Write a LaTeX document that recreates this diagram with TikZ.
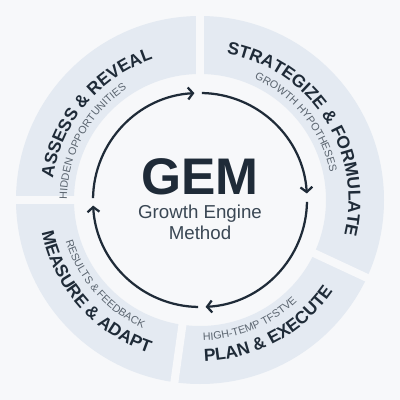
\documentclass[tikz,border=0pt]{standalone}
\usepackage{fontspec}
\setmainfont{Liberation Sans}
\usetikzlibrary{arrows.meta,decorations.text}

\definecolor{bgcol}{HTML}{F7F8FA}
\definecolor{segfill}{HTML}{E4EAF2}
\definecolor{inkdark}{HTML}{1F2B38}
\definecolor{subgray}{HTML}{5A646F}
\definecolor{methodgray}{HTML}{3A4754}

\newcommand{\titlefont}{\fontsize{12.4pt}{14pt}\selectfont\bfseries\color{inkdark}}
\newcommand{\subfont}{\fontsize{7.6pt}{9pt}\selectfont\color{subgray}}

% text along an arc: radius, start, end, text
\newcommand{\ringlabel}[4]{%
  \path[decorate,decoration={text along path,text align=center,text={#4}}]
    (#2:#1) arc[start angle=#2,end angle=#3,radius=#1];}

\begin{document}
\begin{tikzpicture}[x=0.025cm,y=0.025cm,
  cyclearrow/.style={inkdark,line width=1.6pt,-{Straight Barb[length=3.5pt,width=8.5pt]}},
  gapline/.style={bgcol,line width=5.7pt}]
\useasboundingbox (-200,-200) rectangle (200,200);
\fill[bgcol] (-200,-200) rectangle (200,200);

% ring
\fill[segfill,even odd rule] (0,0) circle[radius=184] (0,0) circle[radius=126];
\foreach \g in {90,180,-25,262}
  \draw[gapline] (\g:120) -- (\g:190);

% cycle arrows
\draw[cyclearrow] (89:107) arc[start angle=89,end angle=3.5,radius=107];
\draw[cyclearrow] (-1:107) arc[start angle=-1,end angle=-87,radius=107];
\draw[cyclearrow] (-91:107) arc[start angle=-91,end angle=-177,radius=107];
\draw[cyclearrow] (179:107) arc[start angle=179,end angle=93,radius=107];

% centre
\node[inkdark,anchor=base,font=\fontsize{36.6pt}{40pt}\selectfont\bfseries] (gem) at (0,5) {GEM};
\node[methodgray,anchor=base,font=\fontsize{13.3pt}{15pt}\selectfont] (growth) at (0,-19) {Growth Engine};
\node[methodgray,anchor=base,font=\fontsize{13.3pt}{15pt}\selectfont] (method) at (0,-40) {Method};

% titles
\ringlabel{148.5}{190}{90}{|\titlefont|ASSESS {\&} REVEAL}
\ringlabel{148.5}{93}{-27}{|\titlefont|STRATEGIZE {\&} FORMULATE}
\ringlabel{161.5}{-111.5}{-11.5}{|\titlefont|PLAN {\&} EXECUTE}
\ringlabel{161.5}{171.5}{271.5}{|\titlefont|MEASURE {\&} ADAPT}

% subtitles
\ringlabel{133}{201.5}{101.5}{|\subfont|HIDDEN OPPORTUNITIES}
\ringlabel{133}{89}{-11}{|\subfont|GROWTH HYPOTHESES}
\ringlabel{140.5}{-117.5}{-17.5}{|\subfont|HIGH-TEMP TFSTVE}
\ringlabel{140.5}{171.5}{271.5}{|\subfont|RESULTS {\&} FEEDBACK}
\end{tikzpicture}
\end{document}
